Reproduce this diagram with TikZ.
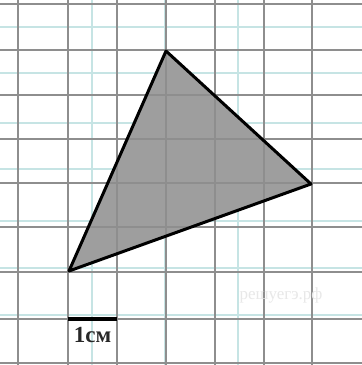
\documentclass[tikz,border=0pt]{standalone}
\usepackage{fontspec}
\setmainfont{Liberation Serif}
\definecolor{lightc}{RGB}{198,228,228}
\definecolor{gridc}{RGB}{142,142,142}
\definecolor{fillc}{RGB}{158,158,158}
\definecolor{labelc}{RGB}{40,40,40}
\definecolor{wmc}{RGB}{232,232,232}
\begin{document}
\begin{tikzpicture}[x=1pt,y=-1pt,
  lightline/.style={draw=lightc, line width=2.8pt},
  gridline/.style={draw=gridc, line width=2.2pt},
  tri/.style={draw=black, line width=3pt, line join=round},
  scalebar/.style={draw=black, line width=3.4pt}]
\useasboundingbox (0,0) rectangle (362,365);
\fill[white] (0,0) rectangle (362,365);
% light bluish lines
\foreach \x in {92,165,238,312} \draw[lightline] (\x,0) -- (\x,365);
\foreach \y in {27,73,123,169,221,268,315} \draw[lightline] (0,\y) -- (362,\y);
% triangle fill
\coordinate (A) at (166,51);
\coordinate (B) at (311,184);
\coordinate (C) at (69,271);
\fill[fillc] (A) -- (B) -- (C) -- cycle;
% gray grid
\foreach \x in {18,68,117,166,215,264,312} \draw[gridline] (\x,0) -- (\x,365);
\foreach \y in {4,50,95,139,183,227,272,319,363} \draw[gridline] (0,\y) -- (362,\y);
% triangle outline
\draw[tri] (A) -- (B) -- (C) -- cycle;
% scale bar
\coordinate (S1) at (68,319);
\coordinate (S2) at (117,319);
\draw[scalebar] (S1) -- (S2);
\node[font=\bfseries\fontsize{23}{23}\selectfont, inner sep=0pt, text=labelc] (lbl) at (92.5,335) {1см};
% watermark
\node[font=\fontsize{17}{17}\selectfont, inner sep=0pt, text=wmc] (wm) at (281,295) {решуегэ.рф};
\end{tikzpicture}
\end{document}
